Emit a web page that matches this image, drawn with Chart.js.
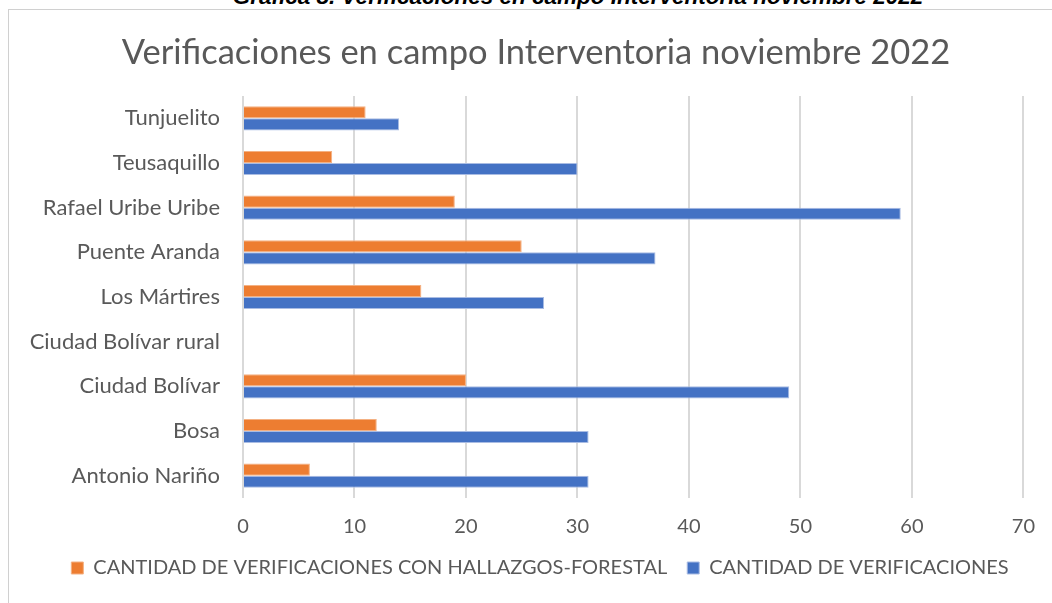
<!DOCTYPE html>
<html>
<head>
<meta charset="utf-8">
<script src="https://cdn.jsdelivr.net/npm/chart.js@4.4.0/dist/chart.umd.min.js"></script>
<style>
  html, body { margin: 0; padding: 0; background: #ffffff; width: 1052px; height: 603px; overflow: hidden; }
  #caption { position: absolute; left: 0; width: 1156px; top: -16px; text-align: center;
    font-family: "Liberation Sans", Arial, sans-serif; font-weight: bold; font-style: italic;
    font-size: 22.5px; line-height: 26px; color: #000; white-space: nowrap; }
  #frame { position: absolute; left: 8px; top: 9px; width: 1060px; height: 610px;
    border: 1px solid #d0d0d0; box-sizing: border-box; background: #fff; }
  #title { position: absolute; left: 0; width: 1072px; top: 31px; text-align: center;
    font-family: Lato, "Open Sans", sans-serif; font-size: 34.5px; line-height: 40px; color: #595959; white-space: nowrap; }
  #wrap { position: absolute; left: 9px; top: 10px; width: 1043px; height: 593px; }
</style>
</head>
<body>
<div id="caption">Gráfica 8. Verificaciones en campo Interventoria noviembre 2022</div>
<div id="frame"></div>
<div id="wrap"><canvas id="c"></canvas></div>
<div id="title"></div>
<script>
const categories = ["Tunjuelito", "Teusaquillo", "Rafael Uribe Uribe", "Puente Aranda", "Los Mártires", "Ciudad Bolívar rural", "Ciudad Bolívar", "Bosa", "Antonio Nariño"];
const hallazgosForestal = [11, 8, 19, 25, 16, 0, 20, 12, 6];
const verificaciones = [14, 30, 59, 37, 27, 0, 49, 31, 31];
const xTicks = [0, 10, 20, 30, 40, 50, 60, 70];
const seriesNames = ["CANTIDAD DE VERIFICACIONES CON HALLAZGOS-FORESTAL", "CANTIDAD DE VERIFICACIONES"];
const titleText = "Verificaciones en campo Interventoria noviembre 2022";

document.getElementById("title").textContent = titleText;

const FONT = "Lato, 'Open Sans', sans-serif";
const GREY = "#595959";

new Chart(document.getElementById("c"), {
  type: "bar",
  data: {
    labels: categories,
    datasets: [
      { label: seriesNames[0], data: hallazgosForestal, backgroundColor: "#ED7D31", borderColor: "#F4B183", borderWidth: 1, borderSkipped: "left" },
      { label: seriesNames[1], data: verificaciones, backgroundColor: "#4472C4", borderColor: "#A9BCE3", borderWidth: 1, borderSkipped: "left" }
    ]
  },
  options: {
    indexAxis: "y",
    responsive: true,
    maintainAspectRatio: false,
    animation: false,
    datasets: { bar: { categoryPercentage: 0.54, barPercentage: 1.0 } },
    layout: { padding: { left: 19, right: 0, top: 86, bottom: 15 } },
    scales: {
      x: {
        min: xTicks[0], max: xTicks[xTicks.length - 1],
        afterBuildTicks: (s) => { s.ticks = xTicks.map(v => ({ value: v })); },
        afterFit: (s) => { s.height = 40; },
        grid: { color: "#d9d9d9", lineWidth: 2, drawTicks: false },
        border: { display: false },
        ticks: { color: GREY, font: { family: FONT, size: 20 }, padding: 17 }
      },
      y: {
        afterFit: (s) => { s.width = 215; },
        grid: { display: false, drawTicks: false },
        border: { display: false },
        ticks: { color: GREY, font: { family: FONT, size: 22 }, padding: 23 }
      },
      yRight: {
        type: "linear", axis: "y", position: "right", display: true,
        afterFit: (s) => { s.width = 27; },
        grid: { display: false, drawTicks: false },
        border: { display: false },
        ticks: { display: false }
      }
    },
    plugins: {
      title: { display: false },
      legend: { position: "bottom",
        labels: { color: GREY, font: { family: FONT, size: 20 }, boxWidth: 12, boxHeight: 12, padding: 20 } },
      tooltip: { enabled: false }
    }
  }
});
</script>
</body>
</html>
